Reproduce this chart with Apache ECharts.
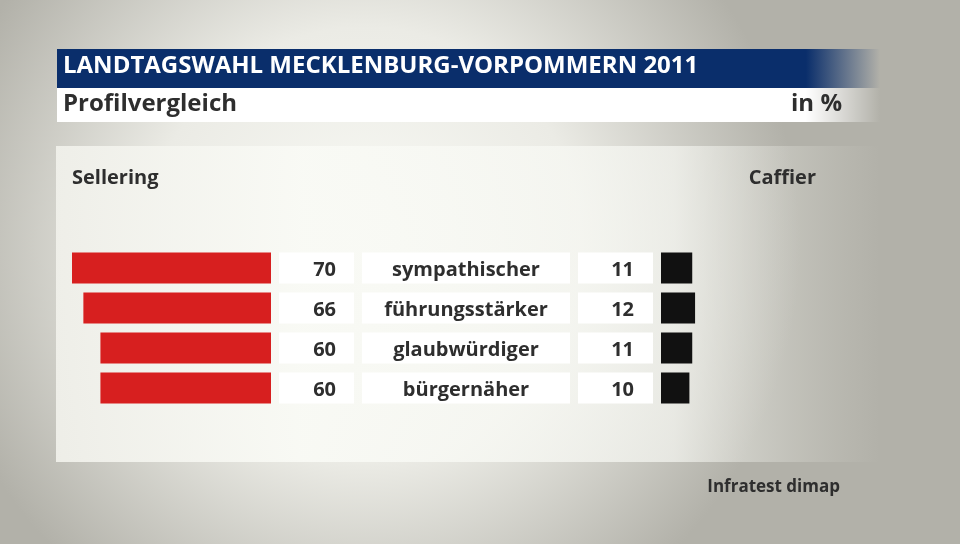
<!DOCTYPE html>
<html>
<head>
<meta charset="utf-8">
<script src="https://cdn.jsdelivr.net/npm/echarts@6/dist/echarts.min.js"></script>
<style>
  html, body { margin: 0; padding: 0; }
  #chart { width: 960px; height: 544px; }
</style>
</head>
<body>
<div id="chart"></div>
<script>
const categories = ['sympathischer', 'führungsstärker', 'glaubwürdiger', 'bürgernäher'];
const sellering = [70, 66, 60, 60];
const caffier = [11, 12, 11, 10];

const FONT = '"Open Sans", "DejaVu Sans", sans-serif';
const TEXT = '#2e2e2e';

const chart = echarts.init(document.getElementById('chart'));

// white label boxes: text sits a little low in the box
const box = {
    height: 27, lineHeight: 27, padding: [4, 0, 0, 0], backgroundColor: '#ffffff',
    color: TEXT, fontFamily: FONT, fontWeight: 'bold', fontSize: 20
};

const option = {
    animation: false,
    backgroundColor: '#d0cfc8',
    graphic: [
        {
            type: 'rect', z: -10, silent: true,
            shape: { x: 0, y: 0, width: 960, height: 544 },
            style: {
                fill: new echarts.graphic.RadialGradient(0.38, 0.45, 0.8, [
                    { offset: 0, color: '#f9faf5' },
                    { offset: 0.5, color: '#ebebe5' },
                    { offset: 1, color: '#b2b1a9' }
                ])
            }
        },
        {
            type: 'rect', z: -9, silent: true,
            shape: { x: 56, y: 146, width: 824, height: 316 },
            style: {
                fill: new echarts.graphic.LinearGradient(0, 0, 1, 0, [
                    { offset: 0, color: 'rgba(240,240,234,0.95)' },
                    { offset: 0.3, color: 'rgba(249,250,245,0.95)' },
                    { offset: 0.75, color: 'rgba(246,247,242,0.7)' },
                    { offset: 1, color: 'rgba(220,220,212,0)' }
                ])
            }
        },
        {
            type: 'rect', z: -5, silent: true,
            shape: { x: 57, y: 49, width: 823, height: 39 },
            style: {
                fill: new echarts.graphic.LinearGradient(0, 0, 1, 0, [
                    { offset: 0, color: '#0a2e6b' },
                    { offset: 0.91, color: '#0a2e6b' },
                    { offset: 1, color: 'rgba(10,46,107,0)' }
                ])
            }
        },
        {
            type: 'rect', z: -5, silent: true,
            shape: { x: 57, y: 88, width: 823, height: 34 },
            style: {
                fill: new echarts.graphic.LinearGradient(0, 0, 1, 0, [
                    { offset: 0, color: '#ffffff' },
                    { offset: 0.91, color: '#ffffff' },
                    { offset: 1, color: 'rgba(255,255,255,0)' }
                ])
            }
        },
        {
            type: 'text', left: 63, top: 54,
            style: { text: 'LANDTAGSWAHL MECKLENBURG-VORPOMMERN 2011', fill: '#ffffff', font: 'bold 24px ' + FONT }
        },
        {
            type: 'text', left: 63, top: 92,
            style: { text: 'Profilvergleich', fill: TEXT, font: 'bold 24px ' + FONT }
        },
        {
            type: 'text', right: 118, top: 92,
            style: { text: 'in %', fill: TEXT, font: 'bold 24px ' + FONT }
        },
        {
            type: 'text', left: 72, top: 168,
            style: { text: 'Sellering', fill: TEXT, font: 'bold 20px ' + FONT }
        },
        {
            type: 'text', right: 144, top: 168,
            style: { text: 'Caffier', fill: TEXT, font: 'bold 20px ' + FONT }
        },
        {
            type: 'text', right: 120, top: 479,
            style: { text: 'Infratest dimap', fill: TEXT, font: 'bold 17px ' + FONT }
        }
    ],
    grid: [
        { left: 72, right: 689, top: 248, height: 160 },
        { left: 661, right: 15, top: 248, height: 160 }
    ],
    xAxis: [
        { gridIndex: 0, type: 'value', min: 0, max: 70, inverse: true, show: false },
        { gridIndex: 1, type: 'value', min: 0, max: 100, show: false }
    ],
    yAxis: [
        {
            gridIndex: 0, type: 'category', data: categories, inverse: true, position: 'right',
            axisLine: { show: false }, axisTick: { show: false }, splitLine: { show: false },
            axisLabel: {
                margin: 8,
                formatter: (v, i) => '{v|' + sellering[i] + '}',
                rich: {
                    v: Object.assign({}, box, { width: 57, padding: [4, 18, 0, 0], align: 'right' })
                }
            }
        },
        {
            gridIndex: 1, type: 'category', data: categories, inverse: true, position: 'left',
            axisLine: { show: false }, axisTick: { show: false }, splitLine: { show: false },
            axisLabel: {
                margin: 8,
                formatter: (v, i) => '{c|' + v + '}{s|}{v|' + caffier[i] + '}',
                rich: {
                    c: Object.assign({}, box, { width: 208, align: 'center' }),
                    s: { width: 8, height: 31 },
                    v: Object.assign({}, box, { width: 56, padding: [4, 19, 0, 0], align: 'right' })
                }
            }
        }
    ],
    series: [
        {
            type: 'bar', xAxisIndex: 0, yAxisIndex: 0, data: sellering,
            barWidth: 31, itemStyle: { color: '#d71f1f' }
        },
        {
            type: 'bar', xAxisIndex: 1, yAxisIndex: 1, data: caffier,
            barWidth: 31, itemStyle: { color: '#111111' }
        }
    ]
};

chart.setOption(option);
</script>
</body>
</html>
